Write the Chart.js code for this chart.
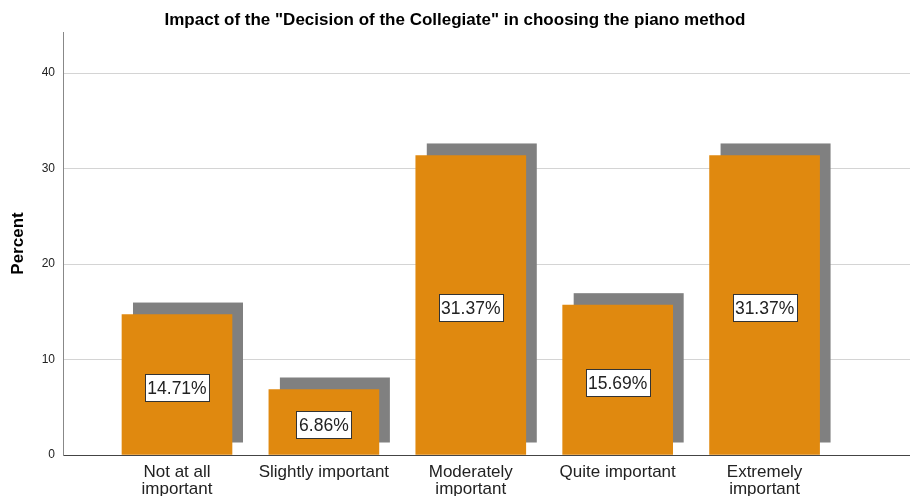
<!DOCTYPE html>
<html>
<head>
<meta charset="utf-8">
<script src="https://cdn.jsdelivr.net/npm/chart.js@4"></script>
<style>
  html, body { margin: 0; padding: 0; background: #fff; }
  #wrap { width: 910px; height: 496px; }
</style>
</head>
<body>
<div id="wrap"><canvas id="c" width="910" height="496"></canvas></div>
<script>
const categories = [
  ["Not at all", "important"],
  ["Slightly important"],
  ["Moderately", "important"],
  ["Quite important"],
  ["Extremely", "important"]
];
const percentValues = [14.71, 6.86, 31.37, 15.69, 31.37];
const yTicks = [0, 10, 20, 30, 40];
const chartTitle = 'Impact of the "Decision of the Collegiate" in choosing the piano method';
const yTitle = "Percent";

const FONT = "'Liberation Sans', Arial, sans-serif";

const shadowPlugin = {
  id: 'shadow',
  beforeDatasetsDraw(chart) {
    const ctx = chart.ctx;
    const meta = chart.getDatasetMeta(0);
    ctx.save();
    ctx.fillStyle = '#808080';
    meta.data.forEach(bar => {
      const p = bar.getProps(['x', 'y', 'base', 'width'], true);
      const dx = 11, dy = -12;
      ctx.fillRect(p.x - p.width / 2 + dx, p.y + dy, p.width, p.base - p.y);
    });
    ctx.restore();
  }
};

const labelPlugin = {
  id: 'boxLabels',
  afterDatasetsDraw(chart) {
    const ctx = chart.ctx;
    const meta = chart.getDatasetMeta(0);
    ctx.save();
    ctx.font = '17.5px ' + FONT;
    ctx.textAlign = 'center';
    ctx.textBaseline = 'middle';
    meta.data.forEach((bar, i) => {
      const p = bar.getProps(['x', 'y', 'base'], true);
      const txt = percentValues[i].toFixed(2) + '%';
      const w = Math.round(ctx.measureText(txt).width + 5);
      const h = 27;
      const cx = p.x, cy = (p.y + p.base) / 2 + 3;
      const x0 = Math.round(cx - w / 2) + 0.5, y0 = Math.round(cy - h / 2) + 0.5;
      ctx.fillStyle = '#ffffff';
      ctx.fillRect(x0, y0, w, h);
      ctx.strokeStyle = '#333333';
      ctx.lineWidth = 1;
      ctx.strokeRect(x0, y0, w, h);
      ctx.fillStyle = '#222222';
      ctx.fillText(txt, cx, y0 + h / 2 + 1);
    });
    ctx.restore();
  }
};

new Chart(document.getElementById('c'), {
  type: 'bar',
  data: {
    datasets: [{
      data: percentValues.map((v, i) => ({ x: i, y: v })),
      backgroundColor: '#E0890F',
      borderWidth: 0,
      barThickness: 110
    }]
  },
  options: {
    responsive: false,
    animation: false,
    events: [],
    layout: { padding: 0 },
    plugins: {
      legend: { display: false },
      tooltip: { enabled: false },
      title: {
        display: true,
        text: chartTitle,
        color: '#000',
        font: { family: FONT, size: 17, weight: 'bold', lineHeight: 1.2 },
        padding: { top: 10, bottom: 1.6 }
      }
    },
    scales: {
      x: {
        type: 'linear',
        offset: false,
        min: -0.776,
        max: 4.99,
        afterBuildTicks(scale) {
          scale.ticks = categories.map((c, i) => ({ value: i }));
        },
        afterFit(scale) { scale.height = 41; },
        ticks: {
          autoSkip: false,
          maxRotation: 0,
          padding: 8,
          color: '#222',
          font: { family: FONT, size: 17, lineHeight: 1.05 },
          callback: (v) => categories[v]
        },
        grid: { display: false, drawTicks: false },
        border: { display: true, color: '#444', width: 1 }
      },
      y: {
        min: 0,
        max: 44.3,
        afterBuildTicks(scale) {
          scale.ticks = yTicks.map(v => ({ value: v }));
        },
        afterFit(scale) { scale.width = 63; },
        ticks: {
          padding: 8,
          color: '#222',
          font: { family: FONT, size: 12 },
          callback: (v) => String(v)
        },
        grid: { color: '#d4d4d4', lineWidth: 1, drawTicks: false },
        border: { display: true, color: '#888', width: 1 },
        title: {
          display: true,
          text: yTitle,
          color: '#000',
          font: { family: FONT, size: 17, weight: 'bold', lineHeight: 1.2 },
          padding: { top: 8, bottom: 0 }
        }
      }
    }
  },
  plugins: [shadowPlugin, labelPlugin]
});
</script>
</body>
</html>
